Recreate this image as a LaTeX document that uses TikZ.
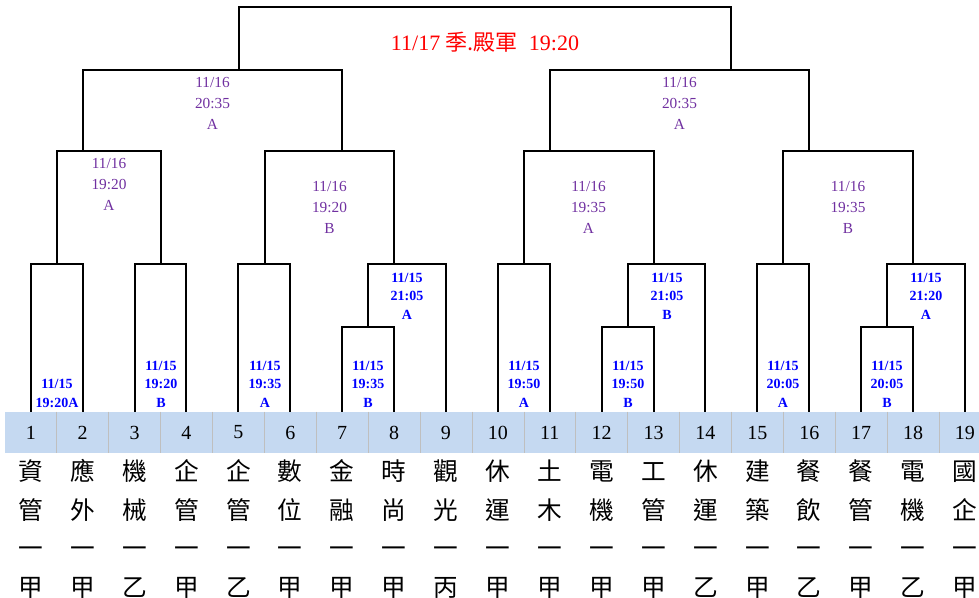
\documentclass[tikz,border=0pt]{standalone}
\usepackage{fontspec}
\setmainfont{Liberation Serif}
\newfontfamily\cjk{Noto Sans CJK TC}
\usepackage{xcolor}
\usepackage{tikz}
\usetikzlibrary{positioning}
\definecolor{bandblue}{HTML}{C5D9F1}
\definecolor{sepgray}{HTML}{BFBFBF}
\definecolor{roundpurple}{HTML}{7030A0}
\tikzset{
  bracket/.style={line width=1.5pt},
  team/.style={fill=bandblue, minimum width=38.93pt, minimum height=30.75pt, inner sep=0pt, font=\fontsize{15}{15}\selectfont},
  klass/.style={inner sep=0pt, text height=16.3pt, text depth=2.2pt, font=\cjk\fontsize{18.5}{22}\selectfont},
  firstround/.style={align=center, inner sep=0pt, text=blue, font=\bfseries\fontsize{10.5}{13.9}\selectfont},
  laterround/.style={align=center, inner sep=0pt, text=roundpurple, font=\fontsize{11.5}{15.75}\selectfont},
  finalround/.style={inner sep=0pt, text=red, font=\fontsize{16.5}{18}\selectfont}
}

\begin{document}
\begin{tikzpicture}[x=0.75pt, y=-0.75pt]
    \useasboundingbox (0,0) rectangle (979,598);

    % Team band
    \foreach \i in {1,...,19}
        \node[team] (t\i) at ({30.75+51.9*(\i-1)},432.5) {\i};
    \foreach \i in {1,...,18}
        \draw[sepgray, line width=0.75pt] (t\i.north east) -- (t\i.south east);

    % Class names, one character per row
    \foreach \i/\a/\b/\g in {1/資/管/甲, 2/應/外/甲, 3/機/械/乙, 4/企/管/甲, 5/企/管/乙,
        6/數/位/甲, 7/金/融/甲, 8/時/尚/甲, 9/觀/光/丙, 10/休/運/甲, 11/土/木/甲,
        12/電/機/甲, 13/工/管/甲, 14/休/運/乙, 15/建/築/甲, 16/餐/飲/乙, 17/餐/管/甲,
        18/電/機/乙, 19/國/企/甲} {
        \node[klass] (c\i-1) at (t\i |- 0,471) {\a};
        \node[klass] (c\i-2) at (t\i |- 0,509.7) {\b};
        \node[klass] (c\i-3) at (t\i |- 0,548.4) {一};
        \node[klass] (c\i-4) at (t\i |- 0,587) {\g};
    }

    % First round
    \coordinate (m12) at (56.7,264);
    \coordinate (m34) at (161,264);
    \coordinate (m56) at (265,264);
    \coordinate (m78) at (368,327);
    \coordinate (m789) at (394,264);
    \coordinate (m1011) at (524,264);
    \coordinate (m1213) at (628,327);
    \coordinate (m1214) at (653.5,264);
    \coordinate (m1516) at (783,264);
    \coordinate (m1718) at (887,327);
    \coordinate (m1719) at (913,264);
    \draw[bracket] (t1.north) |- (m12) -| (t2.north);
    \draw[bracket] (t3.north) |- (m34) -| (t4.north);
    \draw[bracket] (t5.north) |- (m56) -| (t6.north);
    \draw[bracket] (t7.north) |- (m78) -| (t8.north);
    \draw[bracket] (m78) |- (m789) -| (t9.north);
    \draw[bracket] (t10.north) |- (m1011) -| (t11.north);
    \draw[bracket] (t12.north) |- (m1213) -| (t13.north);
    \draw[bracket] (m1213) |- (m1214) -| (t14.north);
    \draw[bracket] (t15.north) |- (m1516) -| (t16.north);
    \draw[bracket] (t17.north) |- (m1718) -| (t18.north);
    \draw[bracket] (m1718) |- (m1719) -| (t19.north);

    % Second round
    \coordinate (q1) at (82.7,151);
    \coordinate (q2) at (342,151);
    \coordinate (q3) at (550,151);
    \coordinate (q4) at (809,151);
    \draw[bracket] (m12) |- (q1) -| (m34);
    \draw[bracket] (m56) |- (q2) -| (m789);
    \draw[bracket] (m1011) |- (q3) -| (m1214);
    \draw[bracket] (m1516) |- (q4) -| (m1719);

    % Semi finals and final
    \coordinate (s1) at (238.5,70);
    \coordinate (s2) at (731,70);
    \coordinate (fin) at (485,7.5);
    \draw[bracket] (q1) |- (s1) -| (q2);
    \draw[bracket] (q3) |- (s2) -| (q4);
    \draw[bracket] (s1) |- (fin) -| (s2);

    % Match labels
    \node[firstround] (l12) at (57,393.5) {11/15\\19:20A};
    \node[firstround] (l34) at (161,384) {11/15\\19:20\\B};
    \node[firstround] (l56) at (265,384) {11/15\\19:35\\A};
    \node[firstround] (l78) at (368,384) {11/15\\19:35\\B};
    \node[firstround] (l789) at (407,296) {11/15\\21:05\\A};
    \node[firstround] (l1011) at (524,384) {11/15\\19:50\\A};
    \node[firstround] (l1213) at (628,384) {11/15\\19:50\\B};
    \node[firstround] (l1214) at (667,296) {11/15\\21:05\\B};
    \node[firstround] (l1516) at (783,384) {11/15\\20:05\\A};
    \node[firstround] (l1718) at (887,384) {11/15\\20:05\\B};
    \node[firstround] (l1719) at (926,296) {11/15\\21:20\\A};
    \node[laterround] (lq1) at (109,184) {11/16\\19:20\\A};
    \node[laterround] (lq2) at (329.5,207) {11/16\\19:20\\B};
    \node[laterround] (lq3) at (588.5,207) {11/16\\19:35\\A};
    \node[laterround] (lq4) at (848,207) {11/16\\19:35\\B};
    \node[laterround] (ls1) at (212.5,103) {11/16\\20:35\\A};
    \node[laterround] (ls2) at (679.5,103) {11/16\\20:35\\A};
    \node[finalround] (lfin) at (485,42) {11/17 {\cjk 季.殿軍}\ \ 19:20};
\end{tikzpicture}
\end{document}
